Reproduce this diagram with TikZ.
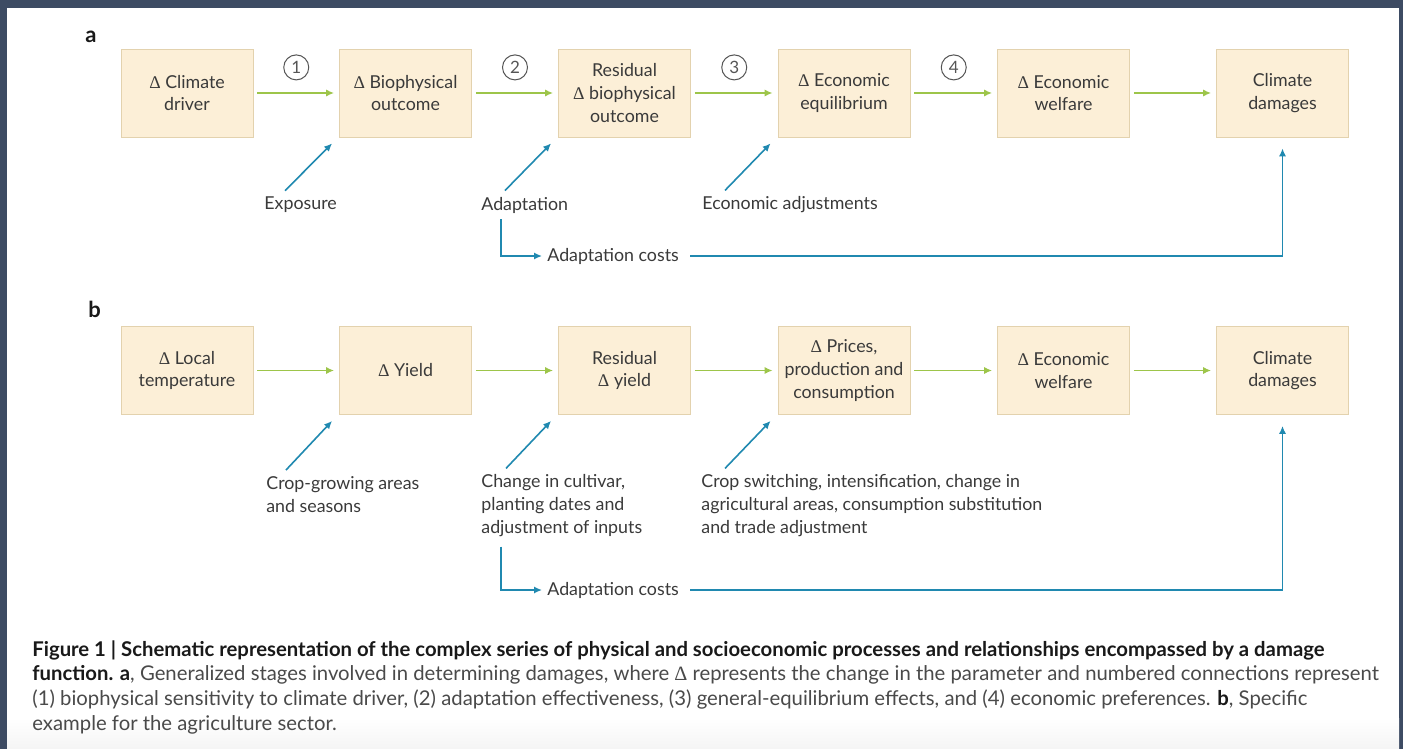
\documentclass[tikz,border=0pt]{standalone}
\usepackage{fontspec}
\setmainfont{Lato}
\newfontfamily\deltafont{Liberation Serif}
\usetikzlibrary{arrows.meta}

\definecolor{frame}{HTML}{3D4B63}
\definecolor{boxfill}{HTML}{FCEFD7}
\definecolor{boxline}{HTML}{E3D2AE}
\definecolor{flowgreen}{HTML}{9DC54A}
\definecolor{costblue}{HTML}{2089B0}
\definecolor{numgray}{HTML}{555555}
\definecolor{inkgray}{HTML}{3A3A3A}
\definecolor{capgray}{HTML}{4A4A4A}

\newcommand{\chg}{{\deltafont Δ}}
\newcommand{\capb}[1]{\textcolor{black!90}{\textbf{#1}}}

\begin{document}
\begin{tikzpicture}[x=.5pt,y=-.5pt,
  stage/.style={draw=boxline,fill=boxfill,minimum width=66pt,minimum height=44pt,
    inner sep=0pt,align=center,text=inkgray,font=\fontsize{8.9}{11.3}\selectfont},
  flow/.style={draw=flowgreen,line width=.8pt,-{Latex[length=4pt,width=3.6pt]},
    shorten <=2pt,shorten >=2.5pt},
  lever/.style={draw=costblue,line width=.8pt,-{Latex[length=4pt,width=3.6pt]}},
  num/.style={draw=numgray,circle,minimum size=12.5pt,inner sep=0pt,line width=.5pt,
    text=numgray,font=\fontsize{8.5}{8.5}\selectfont},
  note/.style={inner sep=0pt,align=left,text=inkgray,font=\fontsize{8.9}{11.5}\selectfont},
  panel/.style={inner sep=0pt,text=black!90,font=\fontsize{11}{11}\selectfont\bfseries}]

\useasboundingbox (0,0) rectangle (1403,749);
\fill [frame] (0,0) rectangle (1403,749);
\fill [white] (7,8) rectangle (1399,749);
\shade [top color=white,bottom color=black!4] (7,718) rectangle (1399,749);

\node [panel,anchor=base west] (pa) at (85,43) {a};

\node [stage] (a1) at (187,93) {\chg\ Climate\\driver};
\node [stage] (a2) at (405.5,93) {\chg\ Biophysical\\outcome};
\node [stage] (a3) at (624.5,93) {Residual\\\chg\ biophysical\\outcome};
\node [stage] (a4) at (844,93) {\chg\ Economic\\equilibrium};
\node [stage] (a5) at (1063.5,93) {\chg\ Economic\\welfare};
\node [stage] (a6) at (1282.5,93) {Climate\\damages};

\draw [flow] (a1) -- node [num,above=6.3pt] (n1) {1} (a2);
\draw [flow] (a2) -- node [num,above=6.3pt] (n2) {2} (a3);
\draw [flow] (a3) -- node [num,above=6.3pt] (n3) {3} (a4);
\draw [flow] (a4) -- node [num,above=6.3pt] (n4) {4} (a5);
\draw [flow] (a5) -- (a6);

\node [note,anchor=west] (expo) at (264,205) {Exposure};
\node [note,anchor=west] (adapt) at (481,205) {Adaptation};
\node [note,anchor=west] (econ) at (702,205) {Economic adjustments};
\node [note,anchor=west] (costa) at (547,256) {Adaptation costs};

\draw [lever] ([shift={(21,-6)}]expo.north west) -- ([shift={(-7,6)}]a2.south west);
\draw [lever] ([shift={(24,-6)}]adapt.north west) -- ([shift={(-7,6)}]a3.south west);
\draw [lever] ([shift={(23,-6)}]econ.north west) -- ([shift={(-7,6)}]a4.south west);
\draw [lever] [shorten >=2.5pt] ([shift={(20,6)}]adapt.south west) |- (costa.west);
\draw [lever] [shorten <=5.5pt,shorten >=5.5pt] (costa.east) -| (a6.south);

\node [panel,anchor=base west] (pb) at (88,317) {b};

\node [stage] (b1) at (187,370.5) {\chg\ Local\\temperature};
\node [stage] (b2) at (405.5,370.5) {\chg\ Yield};
\node [stage] (b3) at (624.5,370.5) {Residual\\\chg\ yield};
\node [stage] (b4) at (844,370.5) {\chg\ Prices,\\production and\\consumption};
\node [stage] (b5) at (1063.5,370.5) {\chg\ Economic\\welfare};
\node [stage] (b6) at (1282.5,370.5) {Climate\\damages};

\draw [flow] (b1) -- (b2);
\draw [flow] (b2) -- (b3);
\draw [flow] (b3) -- (b4);
\draw [flow] (b4) -- (b5);
\draw [flow] (b5) -- (b6);

\node [note,anchor=west] (crop) at (266,494.5) {Crop-growing areas\\and seasons};
\node [note,anchor=west] (cult) at (481,506) {Change in cultivar,\\planting dates and\\adjustment of inputs};
\node [note,anchor=west] (swit) at (701,506) {Crop switching, intensification, change in\\agricultural areas, consumption substitution\\and trade adjustment};
\node [note,anchor=west] (costb) at (547,590) {Adaptation costs};

\draw [lever] ([shift={(20,-6)}]crop.north west) -- ([shift={(-7,6)}]b2.south west);
\draw [lever] ([shift={(25,-6)}]cult.north west) -- ([shift={(-7,6)}]b3.south west);
\draw [lever] ([shift={(24,-6)}]swit.north west) -- ([shift={(-7,6)}]b4.south west);
\draw [lever] [shorten >=2.5pt] ([shift={(20,9)}]cult.south west) |- (costb.west);
\draw [lever] [shorten <=5.5pt,shorten >=5.5pt] (costb.east) -| (b6.south);

\node [anchor=north west,inner sep=0pt,align=left,text=capgray,
  font=\fontsize{10.15}{12.4}\selectfont] (caption) at (32,640)
  {\capb{Figure 1 | Schematic representation of the complex series of physical and socioeconomic processes and relationships encompassed by a damage}\\
   \capb{function. a}, Generalized stages involved in determining damages, where \chg\ represents the change in the parameter and numbered connections represent\\
   (1) biophysical sensitivity to climate driver, (2) adaptation effectiveness, (3) general-equilibrium effects, and (4) economic preferences. \capb{b}, Specific\\
   example for the agriculture sector.};
\end{tikzpicture}
\end{document}
